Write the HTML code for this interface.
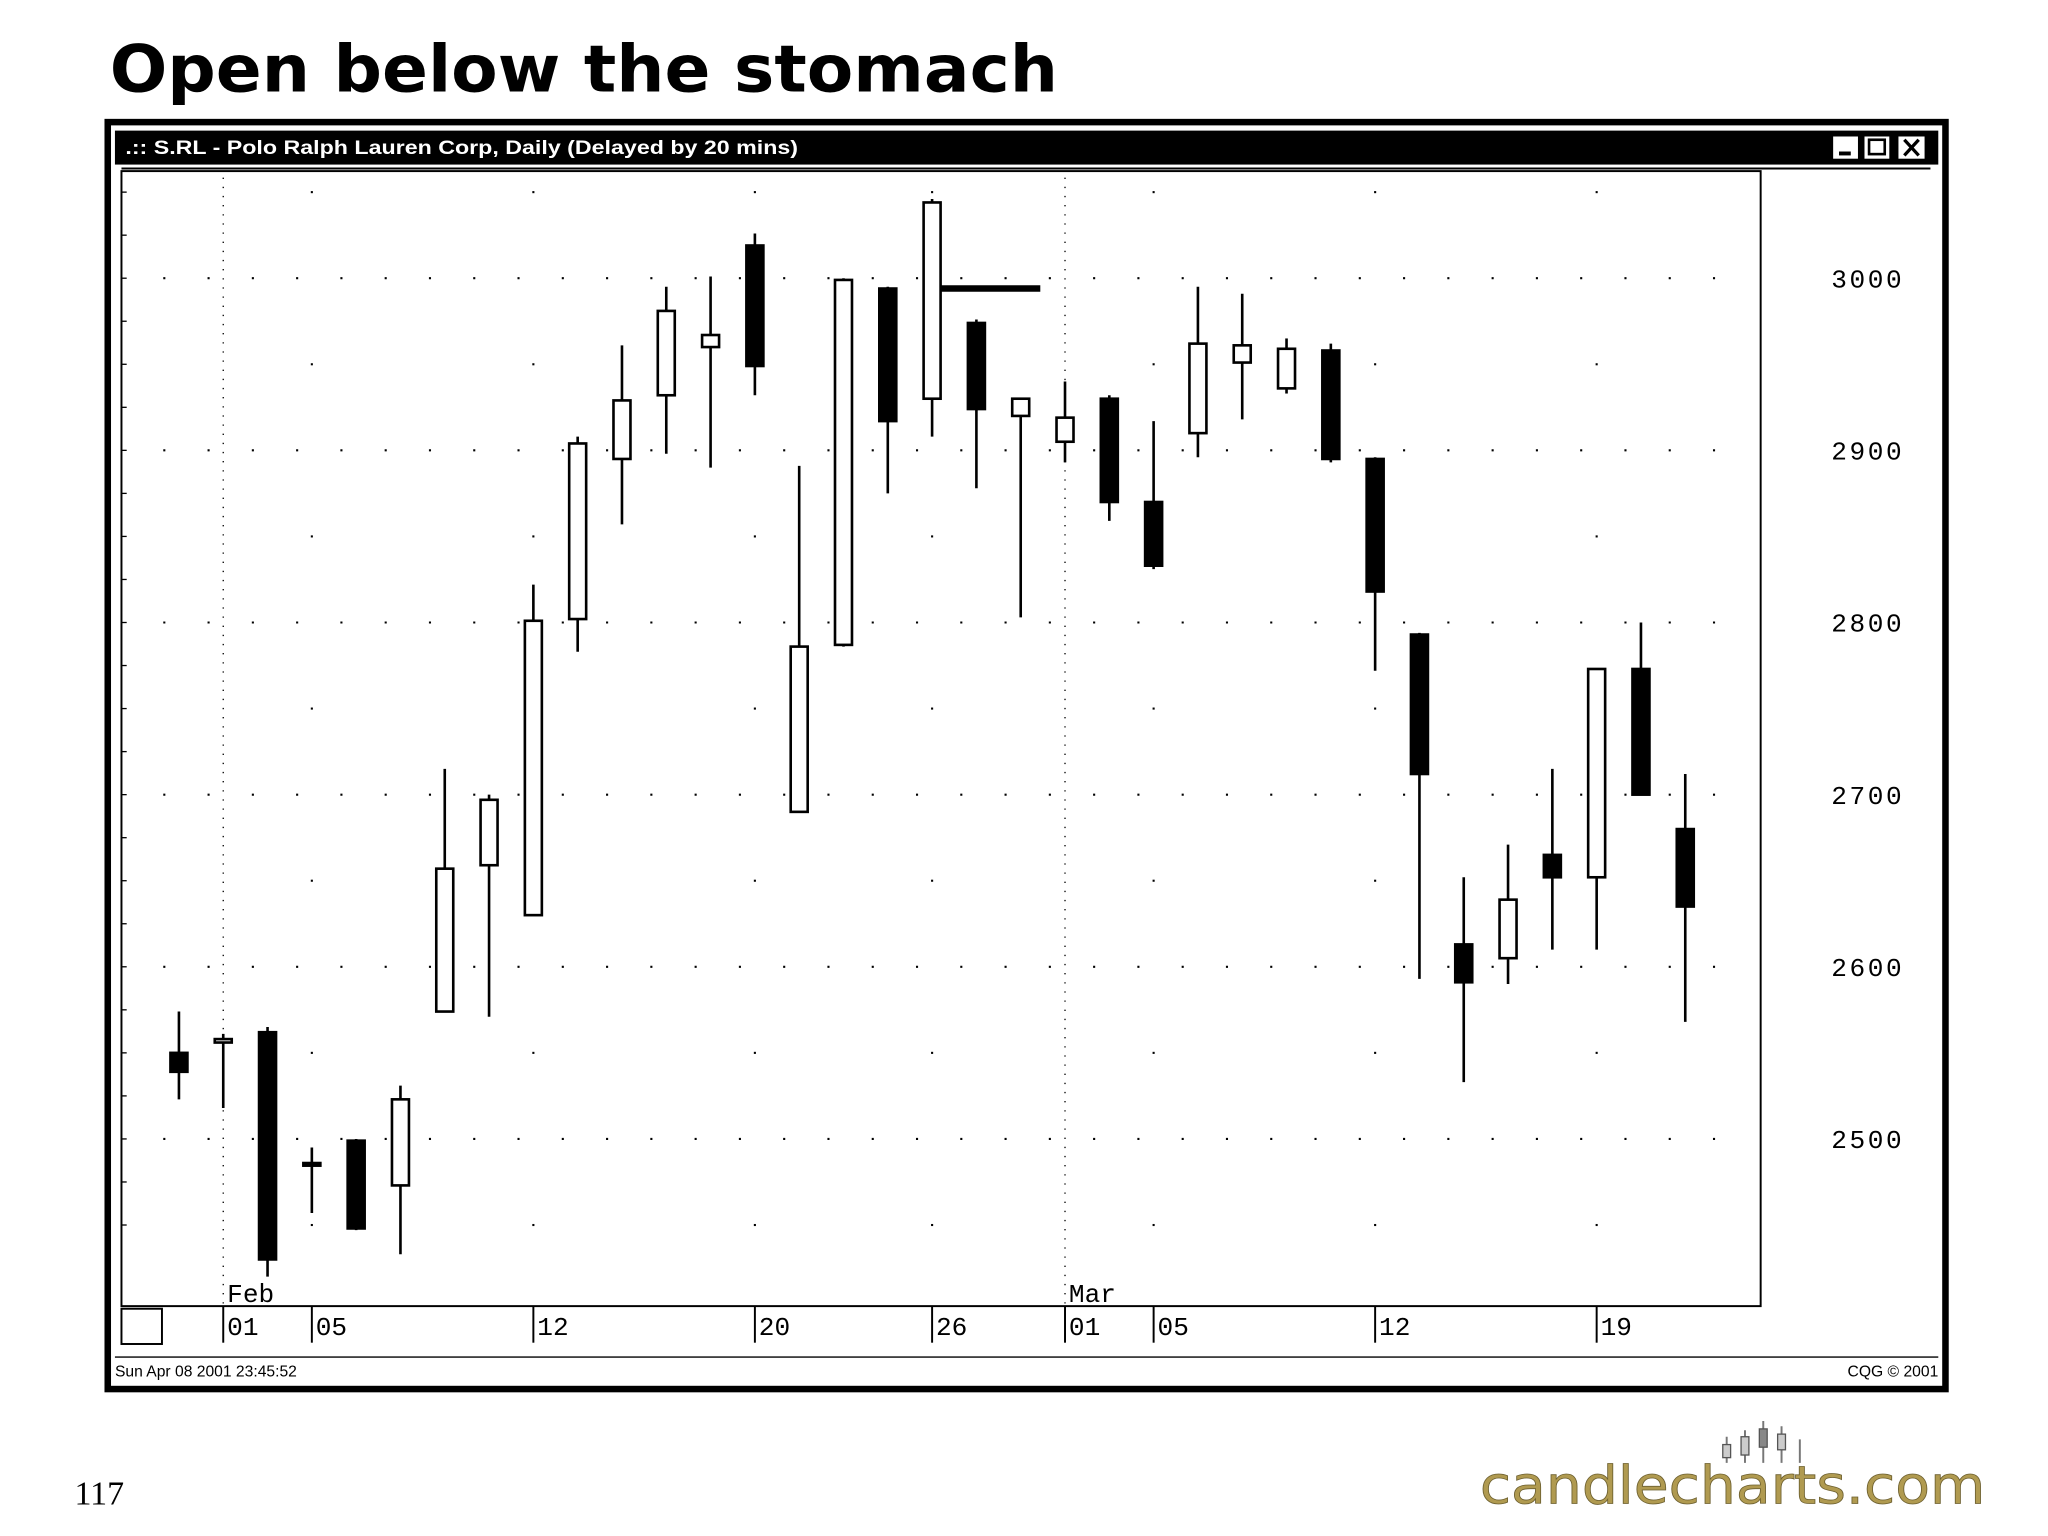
<!DOCTYPE html>
<html><head><meta charset="utf-8"><style>
html,body{margin:0;padding:0;background:#fff;}
svg{display:block;}
</style></head><body>
<svg id="chart" width="2048" height="1536" viewBox="0 0 1568 1176" xmlns="http://www.w3.org/2000/svg">
<rect x="0" y="0" width="1568" height="1176" fill="#fff"/>
<text x="84" y="70" font-family="'DejaVu Sans', sans-serif" font-weight="bold" font-size="50" textLength="726" lengthAdjust="spacingAndGlyphs">Open below the stomach</text>
<rect x="82.5" y="93.5" width="1407" height="970" fill="none" stroke="#000" stroke-width="5"/>
<rect x="88" y="100" width="1396" height="26" fill="#000"/>
<text x="96" y="118" fill="#fff" font-family="'Liberation Sans', sans-serif" font-weight="bold" font-size="15" textLength="515" lengthAdjust="spacingAndGlyphs">.:: S.RL - Polo Ralph Lauren Corp, Daily (Delayed by 20 mins)</text>
<g>
<rect x="1403" y="104" width="20" height="18" fill="#fff" stroke="#000"/>
<rect x="1408" y="116" width="9" height="3" fill="#000"/>
<rect x="1427" y="104" width="20" height="18" fill="#fff" stroke="#000"/>
<rect x="1431" y="107" width="12" height="11" fill="none" stroke="#000" stroke-width="2"/>
<rect x="1453" y="104" width="21" height="18" fill="#fff" stroke="#000"/>
<path d="M1458 107 L1469 119 M1469 107 L1458 119" stroke="#000" stroke-width="2.5"/>
</g>
<line x1="93" y1="129" x2="1478" y2="129" stroke="#000" stroke-width="1.5"/>
<rect x="93" y="131" width="1255" height="869" fill="#fff" stroke="#000" stroke-width="1.5"/>
<g id="grid"></g>
<g id="candles"></g>
<g id="axes"></g>
<rect x="93" y="1002" width="31" height="27" fill="#fff" stroke="#000" stroke-width="1.5"/>
<line x1="88" y1="1039" x2="1484" y2="1039" stroke="#000" stroke-width="1"/>
<text x="88" y="1054" font-family="'Liberation Sans', sans-serif" font-size="12">Sun Apr 08 2001 23:45:52</text>
<text x="1484" y="1054" text-anchor="end" font-family="'Liberation Sans', sans-serif" font-size="12">CQG © 2001</text>
<text x="57" y="1152" font-family="'Liberation Serif', serif" font-size="26">117</text>
<g>
<path d="M1322 1120 V1100 M1336 1120 V1095 M1350 1120 V1088 M1364 1120 V1092 M1378 1120 V1102" stroke="#777" stroke-width="1.5"/>
<rect x="1319" y="1106" width="6" height="10" fill="#ccc" stroke="#555"/>
<rect x="1333" y="1100" width="6" height="14" fill="#ccc" stroke="#555"/>
<rect x="1347" y="1094" width="6" height="14" fill="#888" stroke="#555"/>
<rect x="1361" y="1098" width="6" height="12" fill="#ccc" stroke="#555"/>
<text x="1133" y="1151" font-family="'DejaVu Sans', sans-serif" font-size="40" fill="#b09a50" stroke="#6d6030" stroke-width="0.6" textLength="387" lengthAdjust="spacingAndGlyphs">candlecharts.com</text>
</g>
</svg>
<script>
const opens  = [2550,2556,2562,2486,2499,2473,2574,2659,2630,2802,2895,2932,2960,3019,2690,2787,2994,2930,2974,2920,2905,2930,2870,2910,2951,2936,2958,2895,2793,2613,2605,2665,2652,2773,2680];
const closes = [2539,2558,2430,2486,2448,2523,2657,2697,2801,2904,2929,2981,2967,2949,2786,2999,2917,3044,2924,2930,2919,2870,2833,2962,2961,2959,2895,2818,2712,2591,2639,2652,2773,2700,2635];
const highs  = [2574,2561,2565,2495,2500,2531,2715,2700,2822,2908,2961,2995,3001,3026,2891,3000,2995,3046,2976,2930,2940,2932,2917,2995,2991,2965,2962,2896,2794,2652,2671,2715,2773,2800,2712];
const lows   = [2523,2518,2420,2457,2447,2433,2574,2571,2630,2783,2857,2898,2890,2932,2690,2786,2875,2908,2878,2803,2893,2859,2831,2896,2918,2933,2893,2772,2593,2533,2590,2610,2610,2700,2568];
const yTicks = [3000,2900,2800,2700,2600,2500];
const dateLabels = ["01","05","12","20","26","01","05","12","19"];
const dateIdx = [1,3,8,13,17,20,22,27,32];
const monthLabels = ["Feb","Mar"];
const monthIdx = [1,20];
const stomachLevel = 2994;

const NS="http://www.w3.org/2000/svg";
const X0=93, X1=1348, Y0=131, Y1=1000;
function xS(i){return 137+i*33.92;}
function yS(v){return 213+(3000-v)*1.318;}
function mk(tag,attrs,parent){const e=document.createElementNS(NS,tag);for(const k in attrs)e.setAttribute(k,attrs[k]);parent.appendChild(e);return e;}
const grid=document.getElementById('grid'), cg=document.getElementById('candles'), ax=document.getElementById('axes');

yTicks.forEach(v=>{
  const l=mk('line',{x1:X0+10,x2:X1-5,y1:yS(v),y2:yS(v),stroke:'#000','stroke-width':1.6,'stroke-dasharray':'1.6 32.3','stroke-dashoffset':-22},grid);
  
  
  const t=mk('text',{x:1430,y:yS(v)+7,'text-anchor':'middle','font-family':"'Liberation Mono', monospace",'font-size':20,'letter-spacing':2},ax);
  t.textContent=v;
  
  
});
[3050,2950,2850,2750,2650,2550,2450].forEach(v=>{
  dateIdx.forEach(i=>{ if(i===1||i===20) return; mk('rect',{x:xS(i)-0.8,y:yS(v)-0.8,width:1.6,height:1.6,fill:'#000'},grid);});
});
for(let v=2450;v<=3075;v+=25){mk('line',{x1:X0,x2:X0+4,y1:yS(v),y2:yS(v),stroke:'#000','stroke-width':1},grid);}
monthIdx.forEach((i,k)=>{
  const l=mk('line',{x1:xS(i),x2:xS(i),y1:Y0+5,y2:Y1,stroke:'#000','stroke-width':1,'stroke-dasharray':'1 6'},grid);
  
  
  const t=mk('text',{x:xS(i)+3,y:997,'font-family':"'Liberation Mono', monospace",'font-size':20},ax);
  t.textContent=monthLabels[k];
  
  
});
dateIdx.forEach((i,k)=>{
  mk('line',{x1:xS(i),x2:xS(i),y1:Y1,y2:1028,stroke:'#000','stroke-width':1.5},ax);
  const t=mk('text',{x:xS(i)+3,y:1022,'font-family':"'Liberation Mono', monospace",'font-size':20},ax);
  t.textContent=dateLabels[k];
  
  
});
opens.forEach((o,i)=>{
  const c=closes[i], x=xS(i);
  const g=mk('g',{},cg);
  
  
  mk('line',{x1:x,x2:x,y1:yS(highs[i]),y2:yS(lows[i]),stroke:'#000','stroke-width':2},g);
  const top=yS(Math.max(o,c)), bot=yS(Math.min(o,c));
  const h=Math.max(bot-top,2);
  mk('rect',{x:x-6.5,y:top,width:13,height:h,fill:c<o?'#000':'#fff',stroke:'#000','stroke-width':2},g);
});
const sl=mk('line',{x1:xS(17)+6,x2:xS(19)+15,y1:yS(stomachLevel),y2:yS(stomachLevel),stroke:'#000','stroke-width':5},cg);


</script>
</body></html>
